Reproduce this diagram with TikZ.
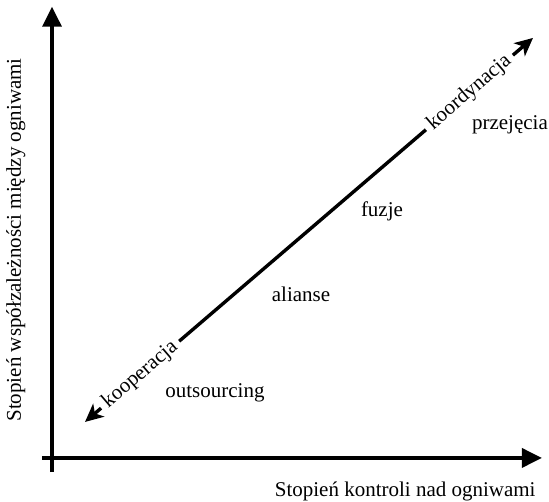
\documentclass[tikz,border=0pt]{standalone}
\usepackage{fontspec}
\setmainfont{Liberation Serif}
\usepackage{tikz}
\usetikzlibrary{arrows.meta, calc}

\begin{document}
\begin{tikzpicture}[
    os/.style={line width=1.7pt, -{Triangle[length=10pt, width=9.5pt]}},
    grot/.style={line width=1.7pt, -{Stealth[length=9pt, width=8.5pt, inset=2.5pt]}},
    lbl/.style={font=\fontsize{10.5}{12.6}\selectfont, inner sep=0pt},
    napis/.style={lbl, rotate=40.6, inner sep=2.5pt}]
    \useasboundingbox (-0.914,-0.773) rectangle (8.734,8.048);

    % osie
    \coordinate (x0) at (-0.18,0);
    \coordinate (x1) at (8.61,0);
    \coordinate (y0) at (0,-0.25);
    \coordinate (y1) at (0,7.93);
    \draw[os] (x0) -- (x1);
    \draw[os] (y0) -- (y1);
    \node[lbl, anchor=base east] (xlab) at (8.505,-0.677)
        {Stopień kontroli nad ogniwami};
    \node[lbl, rotate=90, anchor=base west] (ylab) at (-0.545,0.633)
        {Stopień współzależności między ogniwami};

    % przekątna
    \coordinate (dol) at (0.580,0.633);
    \coordinate (gora) at (8.453,7.381);
    \node[napis] (koop) at ($(dol)!0.123!(gora)$) {kooperacja};
    \node[napis] (koord) at ($(dol)!0.858!(gora)$) {koordynacja};
    \draw[line width=1.7pt] (koop) -- (koord);
    \draw[grot] (koop) -- (dol);
    \draw[grot] (koord) -- (gora);

    % formy współpracy
    \node[lbl, anchor=base] (outs) at (2.864,1.054) {outsourcing};
    \node[lbl, anchor=base] (alian) at (4.376,2.750) {alianse};
    \node[lbl, anchor=base] (fuzje) at (5.799,4.235) {fuzje};
    \node[lbl, anchor=base] (przej) at (8.048,5.764) {przejęcia};
\end{tikzpicture}
\end{document}
